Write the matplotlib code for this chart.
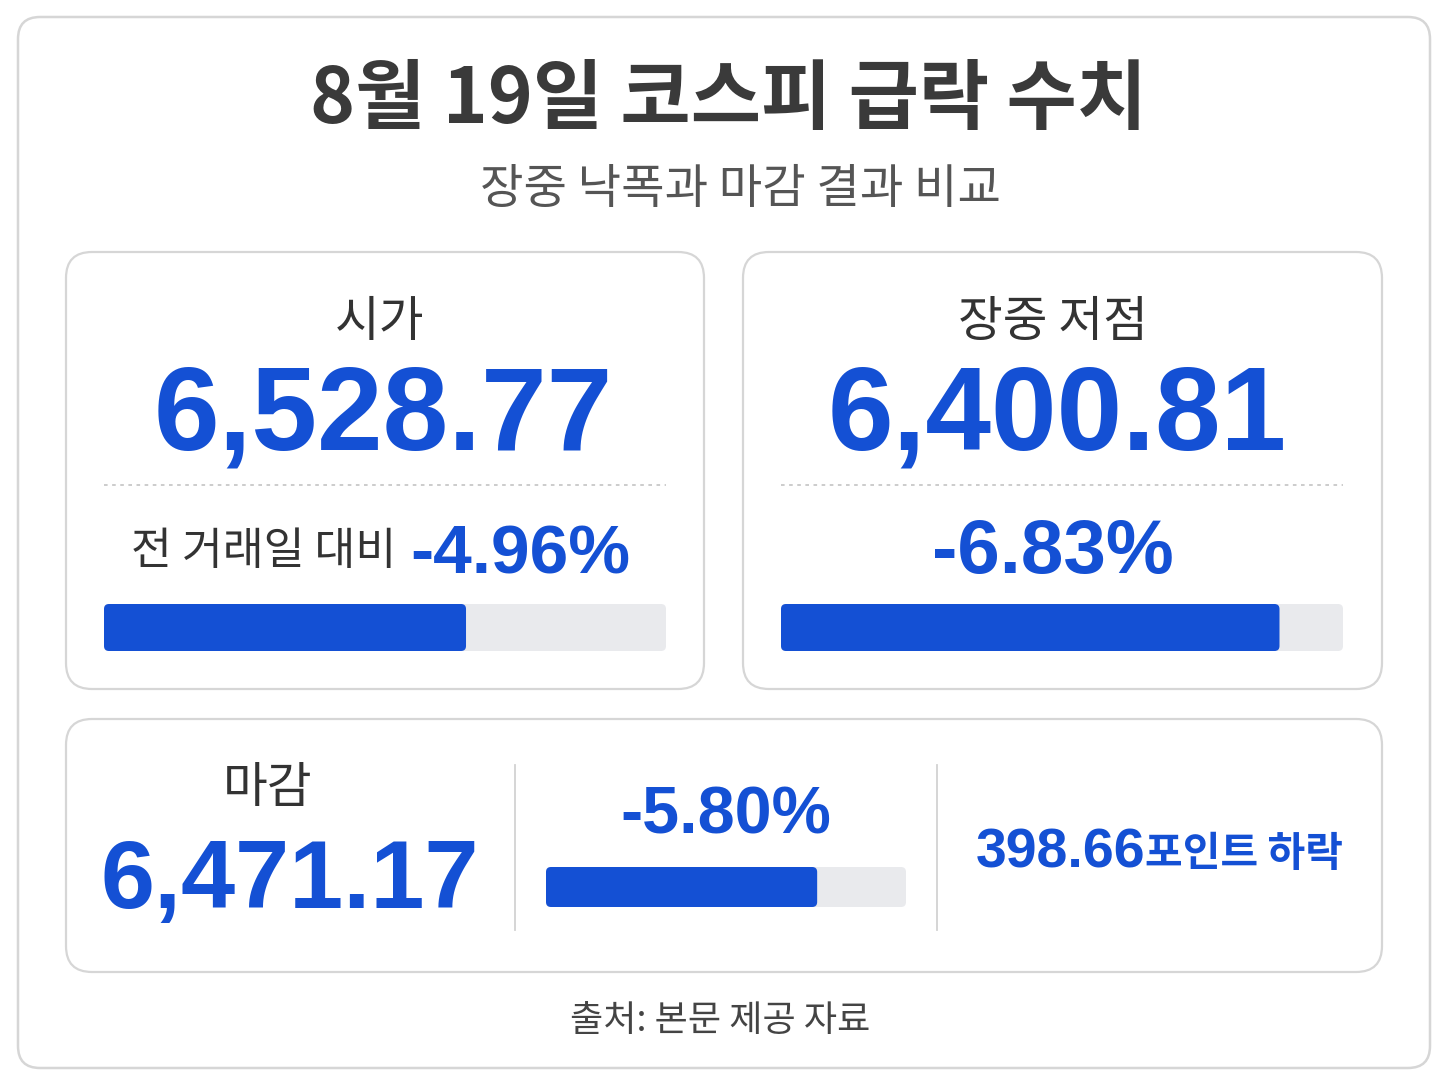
import matplotlib
matplotlib.use("Agg")
import matplotlib.pyplot as plt
from matplotlib.patches import FancyBboxPatch

# data
title = "8월 19일 코스피 급락 수치"
subtitle = "장중 낙폭과 마감 결과 비교"
card_labels = ["시가", "장중 저점", "마감"]
card_values = ["6,528.77", "6,400.81", "6,471.17"]
pct_changes = [-4.96, -6.83, -5.80]
open_note = "전 거래일 대비"
point_drop = 398.66
point_unit = "포인트 하락"
source = "출처: 본문 제공 자료"
bar_max = 7.7

W, H = 1448, 1086
BLUE = "#1450d4"
TRACK = "#e9eaed"
DARK = "#333333"
GRAY = "#555555"
BORDER = "#d6d6d6"
KR = ["Noto Sans CJK KR", "DejaVu Sans"]
NUM = ["Liberation Sans", "Noto Sans CJK KR"]

fig = plt.figure(figsize=(W / 100, H / 100), dpi=100)
fig.patch.set_facecolor("white")
ax = fig.add_axes([0, 0, 1, 1])
ax.set_xlim(0, W)
ax.set_ylim(H, 0)
ax.axis("off")


def card(x0, y0, x1, y1, r=26, lw=1.6):
    ax.add_patch(FancyBboxPatch((x0, y0), x1 - x0, y1 - y0,
                                boxstyle=f"round,pad=0,rounding_size={r}",
                                fc="white", ec=BORDER, lw=lw))


def bar(x0, y0, x1, y1, value, r_px=5):
    wpx, hpx = x1 - x0, y1 - y0
    bax = fig.add_axes([x0 / W, 1 - y1 / H, wpx / W, hpx / H])
    bax.set_xlim(0, bar_max)
    bax.set_ylim(0, 1)
    bax.axis("off")
    r = r_px * bar_max / wpx
    asp = (1 / hpx) / (bar_max / wpx)
    for v, c in ((bar_max, TRACK), (abs(value), BLUE)):
        bax.add_patch(FancyBboxPatch((0, 0), v, 1,
                                     boxstyle=f"round,pad=0,rounding_size={r}",
                                     mutation_aspect=asp, fc=c, ec="none"))


def pct(v):
    return f"{v:.2f}%"


card(18, 17, 1430, 1068, r=22, lw=1.8)

ax.text(728, 100, title, ha="center", va="center", fontsize=55,
        fontweight="bold", color="#3a3a3a", family=KR)
ax.text(740, 190, subtitle, ha="center", va="center", fontsize=34,
        color=GRAY, family=KR)

# top cards
card(66, 252, 704, 689)
card(743, 252, 1382, 689)
label_x = [380, 1053]
num_x = [383, 1057]
lefts = [104, 781]
for i in range(2):
    ax.text(label_x[i], 322, card_labels[i], ha="center", va="center",
            fontsize=35, fontweight="medium", color=DARK, family=KR)
    ax.text(num_x[i], 450, card_values[i], ha="center", va="baseline",
            fontsize=85, fontweight="bold", color=BLUE, family=NUM)
    ax.plot([lefts[i], lefts[i] + 562], [485, 485], color="#c8c8c8",
            lw=1.3, ls=(0, (2, 2.5)))
    bar(lefts[i], 604, lefts[i] + 562, 651, pct_changes[i])

ax.text(396, 551, open_note, ha="right", va="center", fontsize=32,
        color=DARK, family=KR)
ax.text(410, 573, pct(pct_changes[0]), ha="left", va="baseline", fontsize=50,
        fontweight="bold", color=BLUE, family=NUM)
ax.text(1053, 573, pct(pct_changes[1]), ha="center", va="baseline",
        fontsize=55, fontweight="bold", color=BLUE, family=NUM)

# bottom card
card(66, 719, 1382, 972)
ax.text(268, 788, card_labels[2], ha="center", va="center", fontsize=35,
        fontweight="medium", color=DARK, family=KR)
ax.text(290, 908, card_values[2], ha="center", va="baseline", fontsize=70,
        fontweight="bold", color=BLUE, family=NUM)
for sx in (515, 937):
    ax.plot([sx, sx], [765, 930], color="#d2d2d2", lw=1.3)
ax.text(726, 833, pct(pct_changes[2]), ha="center", va="baseline",
        fontsize=48, fontweight="bold", color=BLUE, family=NUM)
bar(546, 867, 906, 907, pct_changes[2])
ax.text(1145, 868, f"{point_drop:.2f}", ha="right", va="baseline",
        fontsize=40, fontweight="bold", color=BLUE, family=NUM)
ax.text(1145, 866, point_unit, ha="left", va="baseline", fontsize=29.5,
        fontweight="bold", color=BLUE, family=KR)

ax.text(720, 1021, source, ha="center", va="center", fontsize=26,
        color="#444444", family=KR)

fig.savefig("out.png", dpi=100, facecolor="white")
